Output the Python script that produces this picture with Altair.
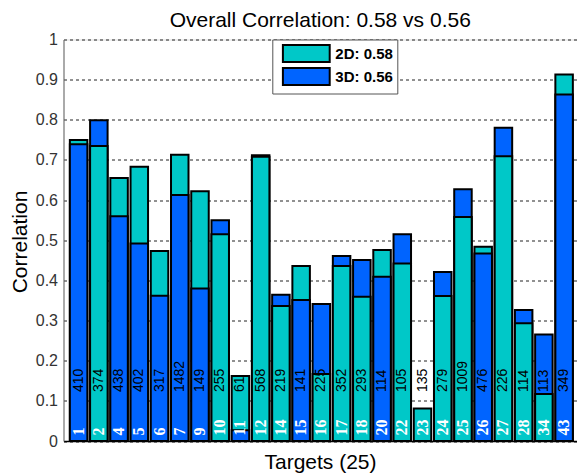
import altair as alt
import pandas as pd

# Per-target data
targets = ["1", "2", "4", "5", "6", "7", "9", "10", "11", "12", "14", "15", "16",
           "17", "18", "20", "22", "23", "24", "25", "26", "27", "28", "34", "43"]
counts = [410, 374, 438, 402, 317, 1482, 149, 255, 61, 568, 219, 141, 225,
          352, 293, 114, 105, 135, 279, 1009, 476, 226, 114, 113, 349]
corr_2d = [0.750, 0.735, 0.655, 0.683, 0.473, 0.713, 0.622, 0.515, 0.162, 0.708,
           0.336, 0.436, 0.167, 0.436, 0.359, 0.476, 0.442, 0.081, 0.361, 0.558,
           0.484, 0.709, 0.293, 0.117, 0.913]
corr_3d = [0.739, 0.799, 0.560, 0.492, 0.362, 0.613, 0.380, 0.550, 0.027, 0.712,
           0.364, 0.351, 0.341, 0.461, 0.451, 0.409, 0.515, 0.000, 0.421, 0.627,
           0.467, 0.780, 0.326, 0.265, 0.863]

series = ["2D", "3D"]
overall = [0.58, 0.56]
colors = ["#00c8c8", "#0064ff"]

series_labels = [f"{s}: {v:.2f}" for s, v in zip(series, overall)]
title_text = f"Overall Correlation: {overall[0]:.2f} vs {overall[1]:.2f}"

FONT = "Liberation Sans"

rows = []
for pos, (t, n, a, b) in enumerate(zip(targets, counts, corr_2d, corr_3d), start=1):
    pair = sorted(zip(series_labels, (a, b)), key=lambda p: -p[1])
    # the taller bar goes behind (layer 0), the shorter one in front (layer 1)
    for layer, (lab, v) in enumerate(pair):
        rows.append(dict(pos=pos, target=t, count=n, series=lab, value=v, layer=layer))
df = pd.DataFrame(rows)
labels_df = pd.DataFrame(dict(pos=list(range(1, len(targets) + 1)),
                              target=targets, count=counts))

x_scale = alt.Scale(domain=[0.5, 25.39], nice=False, zero=False)
y_scale = alt.Scale(domain=[0, 1], nice=False)
color_scale = alt.Scale(domain=series_labels, range=colors)

x_enc = alt.X("pos:Q", scale=x_scale,
              axis=alt.Axis(labels=False, ticks=False, grid=False,
                            domainColor="black", domainWidth=1.5,
                            title="Targets (25)", titleFont=FONT, titleFontSize=21,
                            titleFontWeight="normal", titleColor="black",
                            titleX=256.5, titleY=27.5, titleAlign="center",
                            titleBaseline="alphabetic"))
y_enc = alt.Y("value:Q", scale=y_scale, stack=None,
              axis=alt.Axis(values=[0, 0.1, 0.2, 0.3, 0.4, 0.5, 0.6, 0.7, 0.8, 0.9, 1],
                            format="~g", grid=True, gridDash=[3, 3], gridColor="#222",
                            gridOpacity=1, gridWidth=1, domainColor="#666",
                            ticks=False, labelFont=FONT, labelFontSize=16,
                            labelColor="#333", labelPadding=6, labelOverlap=False,
                            title="Correlation", titleFont=FONT, titleFontSize=21,
                            titleFontWeight="normal", titleColor="black",
                            titleX=-37, titleY=202, titleAlign="center",
                            titleBaseline="alphabetic"))

bar_style = dict(size=17.5, stroke="black", strokeWidth=2, orient="vertical")

# wide rectangular swatch: path spans 5.2 x 1.88 units, scaled by sqrt(size)/2
swatch = "M-2.6,-0.94H2.6V0.94H-2.6Z"

back = alt.Chart(df).transform_filter("datum.layer == 0").mark_bar(**bar_style).encode(
    x=x_enc,
    y=y_enc,
    color=alt.Color("series:N", scale=color_scale,
                    legend=alt.Legend(title=None, orient="none", legendX=208.8, legendY=0,
                                      symbolType=swatch, symbolSize=324,
                                      symbolOffset=20, symbolStrokeColor="black",
                                      symbolStrokeWidth=2, symbolOpacity=1,
                                      labelFont=FONT, labelFontSize=15,
                                      labelFontWeight="bold", labelColor="black",
                                      labelOffset=19, rowPadding=-6.4, padding=4,
                                      strokeColor="#555", fillColor="white")),
)
front = alt.Chart(df).transform_filter("datum.layer == 1").mark_bar(**bar_style).encode(
    x="pos:Q",
    y="value:Q",
    color=alt.Color("series:N", scale=color_scale),
)

count_text = alt.Chart(labels_df).mark_text(
    angle=270, align="left", baseline="middle", font=FONT, fontSize=14, color="black"
).encode(x="pos:Q", y=alt.datum(0.122), text="count:N")

target_text = alt.Chart(labels_df).mark_text(
    angle=270, align="left", baseline="middle", font="Liberation Sans Narrow",
    fontSize=16, fontWeight="bold", color="white"
).encode(x="pos:Q", y=alt.datum(0.014), text="target:N")

chart = alt.layer(back, front, count_text, target_text).properties(
    width=513.5,
    height=401.5,
    title=alt.TitleParams(title_text, font=FONT, fontSize=21, fontWeight="normal",
                          color="black", anchor="middle", frame="group",
                          baseline="alphabetic", offset=10, dy=26),
    autosize=alt.AutoSizeParams(type="none"),
    padding={"left": 63.5, "top": 39.5, "right": 0, "bottom": 35},
).configure_view(stroke=None).configure(background="white")

chart.save("out.html", embed_options={"renderer": "svg", "actions": False})
